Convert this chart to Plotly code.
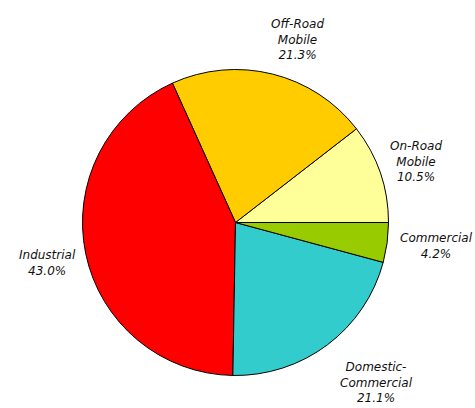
import plotly.graph_objects as go

# Share of emissions by source category
labels = ["On-Road Mobile", "Off-Road Mobile", "Industrial", "Domestic-Commercial", "Commercial"]
label_lines = ["On-Road<br>Mobile", "Off-Road<br>Mobile", "Industrial", "Domestic-<br>Commercial", "Commercial"]
values = [10.5, 21.3, 43.0, 21.1, 4.2]
colors = ["#FFFF99", "#FFCC00", "#FF0000", "#33CCCC", "#99CC00"]

W, H = 475, 408
# label anchor points in pixels (centre of each text block)
label_pos = [(416, 162), (297, 39), (47, 263), (376, 382), (436, 246)]

# Plotly places the first counterclockwise slice so that it ends at `rotation`;
# shift by its sweep so that the first slice begins at 3 o'clock.
first_sweep = 360 * values[0] / sum(values)

fig = go.Figure(go.Pie(
    labels=labels,
    values=values,
    marker=dict(colors=colors, line=dict(color="#000000", width=1)),
    sort=False,
    direction="counterclockwise",
    rotation=90 - first_sweep,
    textinfo="none",
    hoverinfo="label+percent",
    domain=dict(x=[82.5 / W, 388.5 / W], y=[32.5 / H, 338.5 / H]),
    showlegend=False,
))

for txt, v, (px, py) in zip(label_lines, values, label_pos):
    fig.add_annotation(
        x=px / W, y=1 - py / H, xref="paper", yref="paper",
        text=f"{txt}<br>{v:.1f}%",
        showarrow=False, xanchor="center", yanchor="middle",
        font=dict(family="DejaVu Sans", size=12, color="#111111", style="italic"),
    )

fig.update_layout(
    width=W, height=H,
    margin=dict(l=0, r=0, t=0, b=0),
    paper_bgcolor="white",
    plot_bgcolor="white",
)

fig.write_html("out.html")
